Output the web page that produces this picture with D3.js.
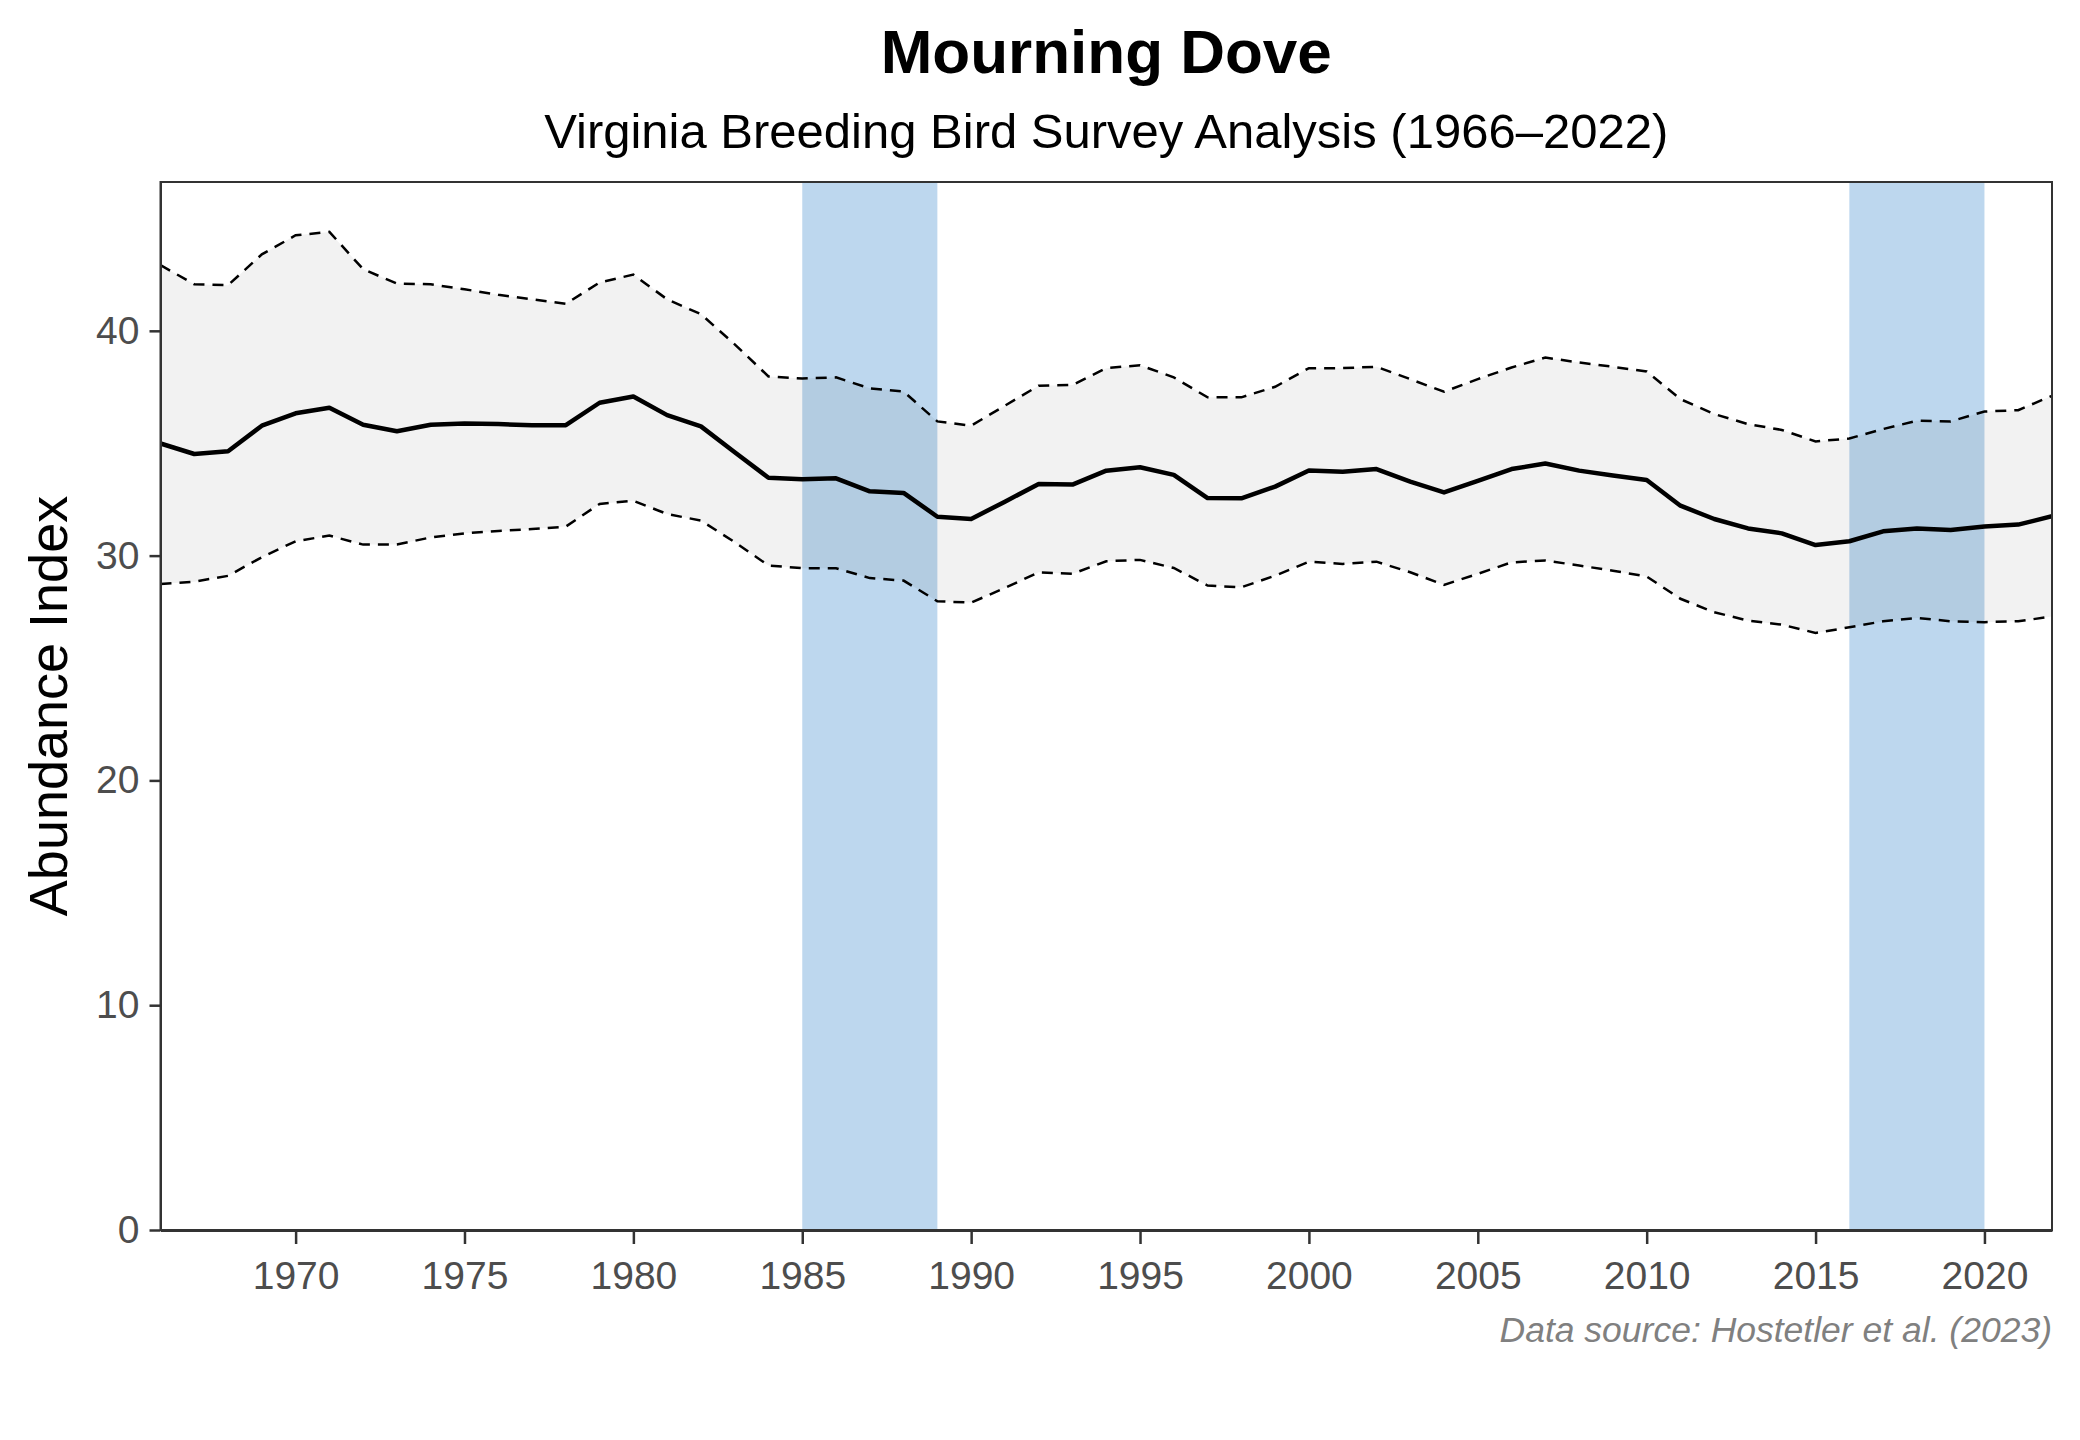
<!DOCTYPE html>
<html>
<head>
<meta charset="utf-8">
<script src="https://cdn.jsdelivr.net/npm/d3@7"></script>
<style>
  html, body { margin: 0; padding: 0; background: #ffffff; }
  svg { display: block; font-family: "Liberation Sans", Arial, Helvetica, sans-serif; }
</style>
</head>
<body>
<svg id="chart" width="2080" height="1440"></svg>
<script>
const years = [1966,1967,1968,1969,1970,1971,1972,1973,1974,1975,1976,1977,1978,1979,1980,1981,1982,1983,1984,1985,1986,1987,1988,1989,1990,1991,1992,1993,1994,1995,1996,1997,1998,1999,2000,2001,2002,2003,2004,2005,2006,2007,2008,2009,2010,2011,2012,2013,2014,2015,2016,2017,2018,2019,2020,2021,2022];
const indexValues = [34.99,34.52,34.64,35.78,36.33,36.58,35.82,35.53,35.82,35.88,
  35.85,35.80,35.80,36.80,37.08,36.25,35.75,34.60,33.46,33.40,
  33.44,32.86,32.79,31.73,31.63,32.40,33.19,33.16,33.78,33.93,
  33.59,32.56,32.55,33.07,33.79,33.73,33.85,33.29,32.81,33.33,
  33.85,34.10,33.78,33.56,33.36,32.22,31.63,31.21,30.99,30.47,
  30.64,31.08,31.21,31.14,31.29,31.38,31.75];
const upperValues = [42.92,42.07,42.03,43.40,44.25,44.40,42.74,42.10,42.07,41.85,
  41.60,41.40,41.20,42.15,42.50,41.40,40.74,39.40,37.97,37.88,
  37.93,37.44,37.30,35.97,35.78,36.67,37.56,37.59,38.34,38.47,
  37.93,37.04,37.04,37.51,38.34,38.34,38.40,37.85,37.29,37.85,
  38.37,38.81,38.59,38.40,38.19,36.96,36.30,35.85,35.59,35.08,
  35.21,35.63,36.00,35.97,36.41,36.47,37.11];
const lowerValues = [28.74,28.84,29.10,29.93,30.64,30.89,30.49,30.49,30.81,30.99,
  31.10,31.18,31.29,32.30,32.44,31.85,31.56,30.60,29.56,29.44,
  29.44,29.00,28.89,27.97,27.91,28.56,29.26,29.19,29.75,29.81,
  29.45,28.67,28.59,29.11,29.73,29.63,29.73,29.26,28.70,29.19,
  29.70,29.78,29.56,29.33,29.07,28.08,27.48,27.11,26.93,26.56,
  26.81,27.08,27.23,27.08,27.04,27.08,27.29];
const highlightStarts = [1985, 2016];
const highlightEnds = [1989, 2020];
const xTicks = [1970,1975,1980,1985,1990,1995,2000,2005,2010,2015,2020];
const yTicks = [0,10,20,30,40];
const titleText = "Mourning Dove";
const subtitleText = "Virginia Breeding Bird Survey Analysis (1966–2022)";
const yLabel = "Abundance Index";
const captionText = "Data source: Hostetler et al. (2023)";

(function () {
const rows = years.map((yr, i) => ({year: yr, idx: indexValues[i], lo: lowerValues[i], hi: upperValues[i]}));
const bands = highlightStarts.map((s, i) => ({start: s, end: highlightEnds[i]}));

const svg = d3.select("#chart");
const pLeft = 160.5, pRight = 2052, pTop = 182, pBottom = 1230;

const x = d3.scaleLinear().domain([d3.min(years), d3.max(years)]).range([pLeft, pRight]);
const yMax = d3.max(upperValues) * 1.05;
const y = d3.scaleLinear().domain([0, yMax]).range([pBottom, pTop]);

svg.append("rect").attr("x", 0).attr("y", 0).attr("width", 2080).attr("height", 1440).attr("fill", "#ffffff");

const clip = svg.append("defs").append("clipPath").attr("id", "panel");
clip.append("rect").attr("x", pLeft).attr("y", pTop).attr("width", pRight - pLeft).attr("height", pBottom - pTop);

const plot = svg.append("g").attr("clip-path", "url(#panel)");

plot.selectAll("rect.band").data(bands).enter().append("rect")
  .attr("class", "band")
  .attr("x", d => x(d.start))
  .attr("width", d => x(d.end) - x(d.start))
  .attr("y", pTop).attr("height", pBottom - pTop)
  .attr("fill", "#BDD7EE");

const area = d3.area().x(d => x(d.year)).y0(d => y(d.lo)).y1(d => y(d.hi));
plot.append("path").datum(rows).attr("d", area).attr("fill", "#000000").attr("fill-opacity", 0.05);

const lineHi = d3.line().x(d => x(d.year)).y(d => y(d.hi));
const lineLo = d3.line().x(d => x(d.year)).y(d => y(d.lo));
const lineIdx = d3.line().x(d => x(d.year)).y(d => y(d.idx));

[lineHi, lineLo].forEach(l => {
  plot.append("path").datum(rows).attr("d", l)
    .attr("fill", "none").attr("stroke", "#000000").attr("stroke-width", 2.5)
    .attr("stroke-dasharray", "11,8");
});
plot.append("path").datum(rows).attr("d", lineIdx)
  .attr("fill", "none").attr("stroke", "#000000").attr("stroke-width", 4.5)
  .attr("stroke-linejoin", "round");

// panel border
svg.append("rect").attr("x", pLeft).attr("y", pTop).attr("width", pRight - pLeft).attr("height", pBottom - pTop)
  .attr("fill", "none").attr("stroke", "#333333").attr("stroke-width", 2);

// axes
const xAxis = d3.axisBottom(x).tickValues(xTicks).tickFormat(d3.format("d"))
  .tickSize(14).tickSizeOuter(0).tickPadding(17);
const gx = svg.append("g").attr("transform", `translate(0,${pBottom})`).call(xAxis);
gx.select(".domain").attr("stroke", "#333333").attr("stroke-width", 3);
gx.selectAll(".tick line").attr("stroke", "#333333").attr("stroke-width", 2.5);
gx.selectAll(".tick text").attr("fill", "#4D4D4D").attr("font-size", 39).attr("dy", "0.71em");

const yAxis = d3.axisLeft(y).tickValues(yTicks).tickFormat(d3.format("d"))
  .tickSize(11).tickSizeOuter(0).tickPadding(10);
const gy = svg.append("g").attr("transform", `translate(${pLeft},0)`).call(yAxis);
gy.select(".domain").attr("stroke", "#333333").attr("stroke-width", 2);
gy.selectAll(".tick line").attr("stroke", "#333333").attr("stroke-width", 2.5);
gy.selectAll(".tick text").attr("fill", "#4D4D4D").attr("font-size", 39);

// titles
const cx = (pLeft + pRight) / 2;
svg.append("text").attr("x", cx).attr("y", 73).attr("text-anchor", "middle")
  .attr("font-size", 62).attr("font-weight", "bold").attr("fill", "#000000").text(titleText);
svg.append("text").attr("x", cx).attr("y", 148).attr("text-anchor", "middle")
  .attr("font-size", 49).attr("fill", "#000000").text(subtitleText);
svg.append("text").attr("transform", `translate(${49 + 18},${(pTop + pBottom) / 2}) rotate(-90)`)
  .attr("text-anchor", "middle").attr("font-size", 54).attr("fill", "#000000").text(yLabel);
svg.append("text").attr("x", pRight).attr("y", 1342).attr("text-anchor", "end")
  .attr("font-size", 35.5).attr("font-style", "italic").attr("fill", "#808080").text(captionText);
})();
</script>
</body>
</html>
